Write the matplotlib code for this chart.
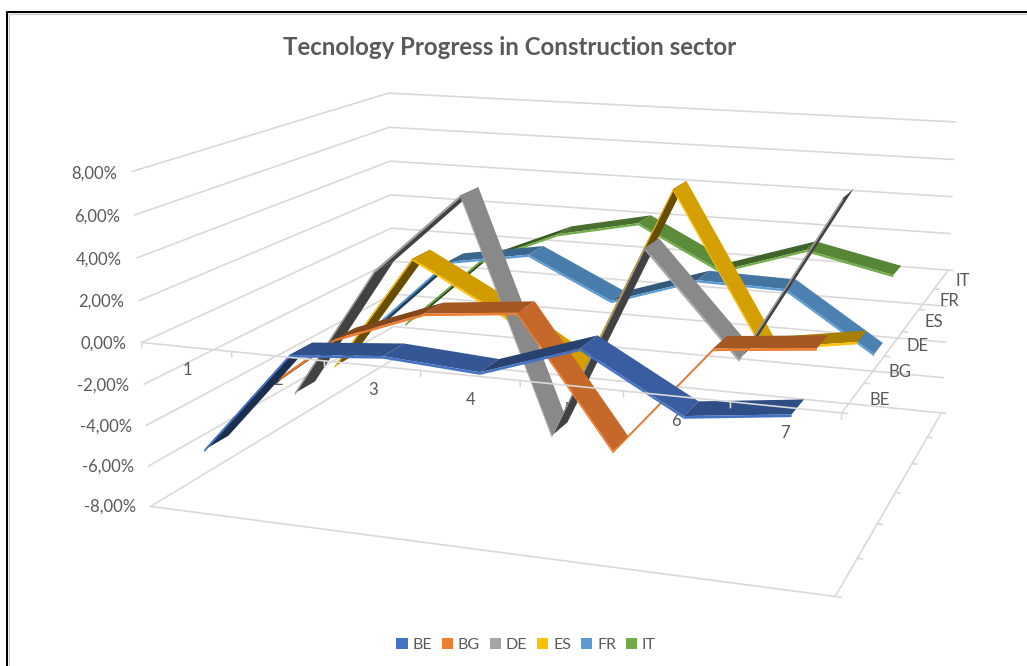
import numpy as np
import matplotlib
matplotlib.use('Agg')
import matplotlib.pyplot as plt
from matplotlib.colors import to_rgb
from matplotlib.lines import Line2D
from matplotlib.patches import Patch
from mpl_toolkits.mplot3d.art3d import Poly3DCollection

plt.rcParams['font.family'] = ['Lato', 'DejaVu Sans']

#Values in %
categories = ['1', '2', '3', '4', '5', '6', '7']
series = ['BE', 'BG', 'DE', 'ES', 'FR', 'IT']
colors = ['#4472C4', '#ED7D31', '#A5A5A5', '#FFC000', '#5B9BD5', '#70AD47']
be = [-5.3, -0.24, 0.14, -0.16, 1.36, -1.2, -0.64]
bg = [-4.05, -0.65, 1.0, 1.45, -4.7, 0.6, 1.05]
de = [-5.1, 1.7, 5.8, -5.85, 3.9, -1.1, 6.9]
es = [-4.9, 1.35, -1.05, -3.8, 5.9, -1.75, -1.0]
fr = [-4.0, 0.2, 0.95, -1.2, 0.3, 0.2, -2.8]
it = [-4.8, -0.75, 1.15, 2.1, -0.2, 1.3, 0.3]
values = [be, bg, de, es, fr, it]
z_ticks = [-8, -6, -4, -2, 0, 2, 4, 6, 8]
z_labels = ['-8,00%', '-6,00%', '-4,00%', '-2,00%', '0,00%', '2,00%', '4,00%', '6,00%', '8,00%']

W, H = 1027, 666
GRID = '#D9D9D9'
TEXT = '#595959'
fig = plt.figure(figsize=(W/100, H/100), dpi=100)

#View fitted against the corners of the chart box
ax = fig.add_axes([0.1161, -0.1405, 0.8647, 1.3333], projection='3d')
ax.set_xlim(0, 7)
ax.set_ylim(0, 6)
ax.set_zlim(-8, 8)
ax.set_xticks([])
ax.set_yticks([])
ax.set_zticks([])
ax.set_axis_off()
ax.view_init(13.973, -70.560, -0.051)
ax.set_proj_type('persp', focal_length=0.4062)
ax.set_box_aspect((2.0449, 1.7172, 1))
ax.computed_zorder = False

def label(x, y, z, s, ha):
    #Put a tick label at a 3D spot, as plain text of the axes
    v = ax.get_proj() @ np.array([x, y, z, 1])
    ax.text2D(v[0]/v[3], v[1]/v[3], s, transform=ax.transData, ha=ha, va='center',
              color=TEXT, fontsize=12, zorder=2)

#Walls and floor
for z in z_ticks:
    ax.plot([0, 0, 7], [0, 6, 6], [z, z, z], color=GRID, lw=1.2, zorder=1)
ax.plot([0, 7, 7], [0, 0, 6], [-8, -8, -8], color=GRID, lw=1.2, zorder=1)
ax.plot([7, 7], [0, 6], [0, 0], color=GRID, lw=1.2, zorder=1)

#Ribbons, from the back row to the front row
width = 0.25
for i, vals in reversed(list(enumerate(values))):
    base = np.array(to_rgb(colors[i]))
    faces, cols = [], []
    for j in range(len(vals)-1):
        x0, x1 = j+.5, j+1.5
        z0, z1 = vals[j], vals[j+1]
        y0, y1 = i+.5-width, i+.5+width
        shade = np.interp(z1-z0, [-3, 0, 3], [.83, .75, .4])
        faces.append([(x0, y0, z0), (x1, y0, z1), (x1, y1, z1), (x0, y1, z0)])
        cols.append(base*shade)
        faces.append([(x0, y0, z0), (x1, y0, z1), (x1, y0, z1-.12), (x0, y0, z0-.12)])
        cols.append(base)
    ax.add_collection3d(Poly3DCollection(faces, facecolors=cols, edgecolors='none', zorder=10-i))

#Category axis sits in front of the ribbons
ax.plot([0, 7], [0, 0], [0, 0], color=GRID, lw=1.2, zorder=20)
for x in range(8):
    ax.plot([x, x], [0, 0], [0, -.25], color=GRID, lw=1.2, zorder=20)
for y in range(7):
    ax.plot([7, 7.05], [y, y], [-8, -8], color=GRID, lw=1.2, zorder=1)
    ax.plot([7, 7.05], [y, y], [0, 0], color=GRID, lw=1.2, zorder=1)

#Tick labels, the ribbons may hide them (the 5 is behind DE in the original)
for z, lab in zip(z_ticks, z_labels):
    label(-.17, 0, z-.13, lab, 'right')
for j, lab in enumerate(categories):
    dx = -.03 if lab == '5' else 0
    label(j+.5+dx, 0, -1.1, lab, 'center')
for i, lab in enumerate(series):
    label(7.24, i+.5, 0, lab, 'center')

fig.text(510/W, 1-47.5/H, 'Tecnology Progress in Construction sector', ha='center', va='center',
         color=TEXT, fontsize=17.3, fontweight='bold')

handles = [Patch(facecolor=c, edgecolor='none', label=s) for c, s in zip(colors, series)]
fig.legend(handles=handles, ncol=6, loc='center', bbox_to_anchor=(526/W, 1-645/H), frameon=False,
           fontsize=11.5, labelcolor=TEXT, handlelength=.72, handleheight=.72, handletextpad=.3,
           columnspacing=.6)

#Frame of the pasted screenshot
fig.add_artist(Line2D([7/W, 7/W, 1], [0, 1-12/H, 1-12/H], color='black', lw=1.5))
fig.add_artist(Line2D([9/W, 9/W, 1], [0, 1-14/H, 1-14/H], color='#C8C8C8', lw=.8))

fig.savefig('out.png', dpi=100)
